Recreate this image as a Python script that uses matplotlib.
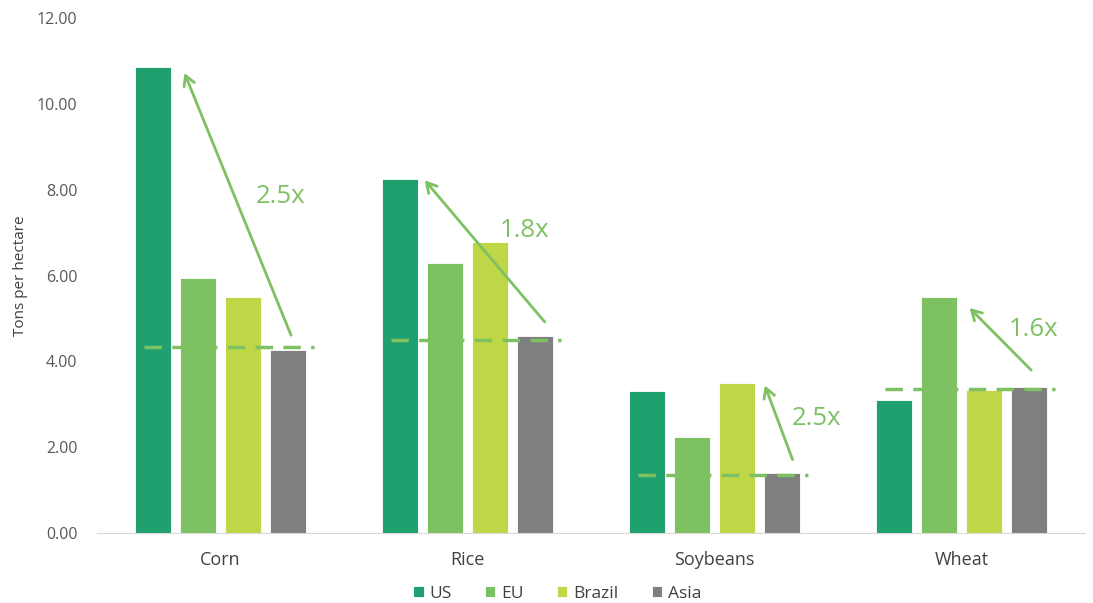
import matplotlib.pyplot as plt
import numpy as np

plt.rcParams['font.family'] = ['Open Sans', 'DejaVu Sans']

crops = ['Corn', 'Rice', 'Soybeans', 'Wheat']
regions = ['US', 'EU', 'Brazil', 'Asia']
us = [10.86, 8.25, 3.31, 3.10]
eu = [5.94, 6.29, 2.24, 5.50]
brazil = [5.49, 6.78, 3.50, 3.33]
asia = [4.27, 4.59, 1.40, 3.40]
baseline = [4.33, 4.50, 1.35, 3.36]
ratios = ['2.5x', '1.8x', '2.5x', '1.6x']

colors = ['#20a06e', '#7dc163', '#bfd646', '#7f7f7f']
green = '#7dc163'

fig = plt.figure(figsize=(10.93, 6.03), dpi=100)
ax = fig.add_axes([0.0887, 0.116, 0.904, 0.854])

x = np.arange(len(crops))
step = 0.182
width = 0.146
for i, (vals, c) in enumerate(zip([us, eu, brazil, asia], colors)):
    ax.bar(x + (i - 1.5) * step, vals, width, color=c, label=regions[i],
           edgecolor='white', linewidth=0.6, zorder=2)

# dashed baseline per crop
for k in range(len(crops)):
    ax.plot([k - 0.31, k + 0.38], [baseline[k]] * 2, ls=(0, (5, 3)),
            color=green, lw=2.5, zorder=3)

# arrows: start, end, text position (dx relative to crop center, y)
arrows = [
    ((0.29, 4.55), (-0.15, 10.78), (0.144, 7.85)),
    ((0.32, 4.87), (-0.18, 8.27), (0.13, 7.04)),
    ((0.32, 1.65), (0.2, 3.5), (0.314, 2.68)),
    ((0.29, 3.75), (0.025, 5.29), (0.19, 4.75)),
]
for k, (start, end, txt) in enumerate(arrows):
    ax.annotate('', xy=(k + end[0], end[1]), xytext=(k + start[0], start[1]),
                arrowprops=dict(arrowstyle='->,head_length=0.7,head_width=0.4',
                                color=green, lw=2), zorder=4)
    ax.text(k + txt[0], txt[1], ratios[k], color=green, fontsize=18.5,
            ha='left', va='center')

ax.set_xlim(-0.5, 3.5)
ax.set_ylim(0, 12)
ax.set_yticks(np.arange(0, 13, 2))
ax.set_yticklabels(['%.2f' % v for v in np.arange(0, 13, 2)])
ax.set_xticks(x)
ax.set_xticklabels(crops, fontsize=13, color='#404040')
ax.tick_params(axis='y', length=0, labelsize=11.5, labelcolor='#595959', pad=14)
ax.tick_params(axis='x', length=0, pad=13)
for s in ['top', 'right', 'left']:
    ax.spines[s].set_visible(False)
ax.spines['bottom'].set_color('#d9d9d9')
ax.set_ylabel('Tons per hectare', fontsize=11, color='#404040')
ax.yaxis.set_label_coords(-0.07, 0.5)

ax.legend(loc='center', bbox_to_anchor=(0.466, -0.118), ncol=4, frameon=False,
          fontsize=12.5, handlelength=0.6, handleheight=0.6, handletextpad=0.35,
          columnspacing=1.9, labelcolor='#404040')

fig.savefig('out.png', dpi=100)
